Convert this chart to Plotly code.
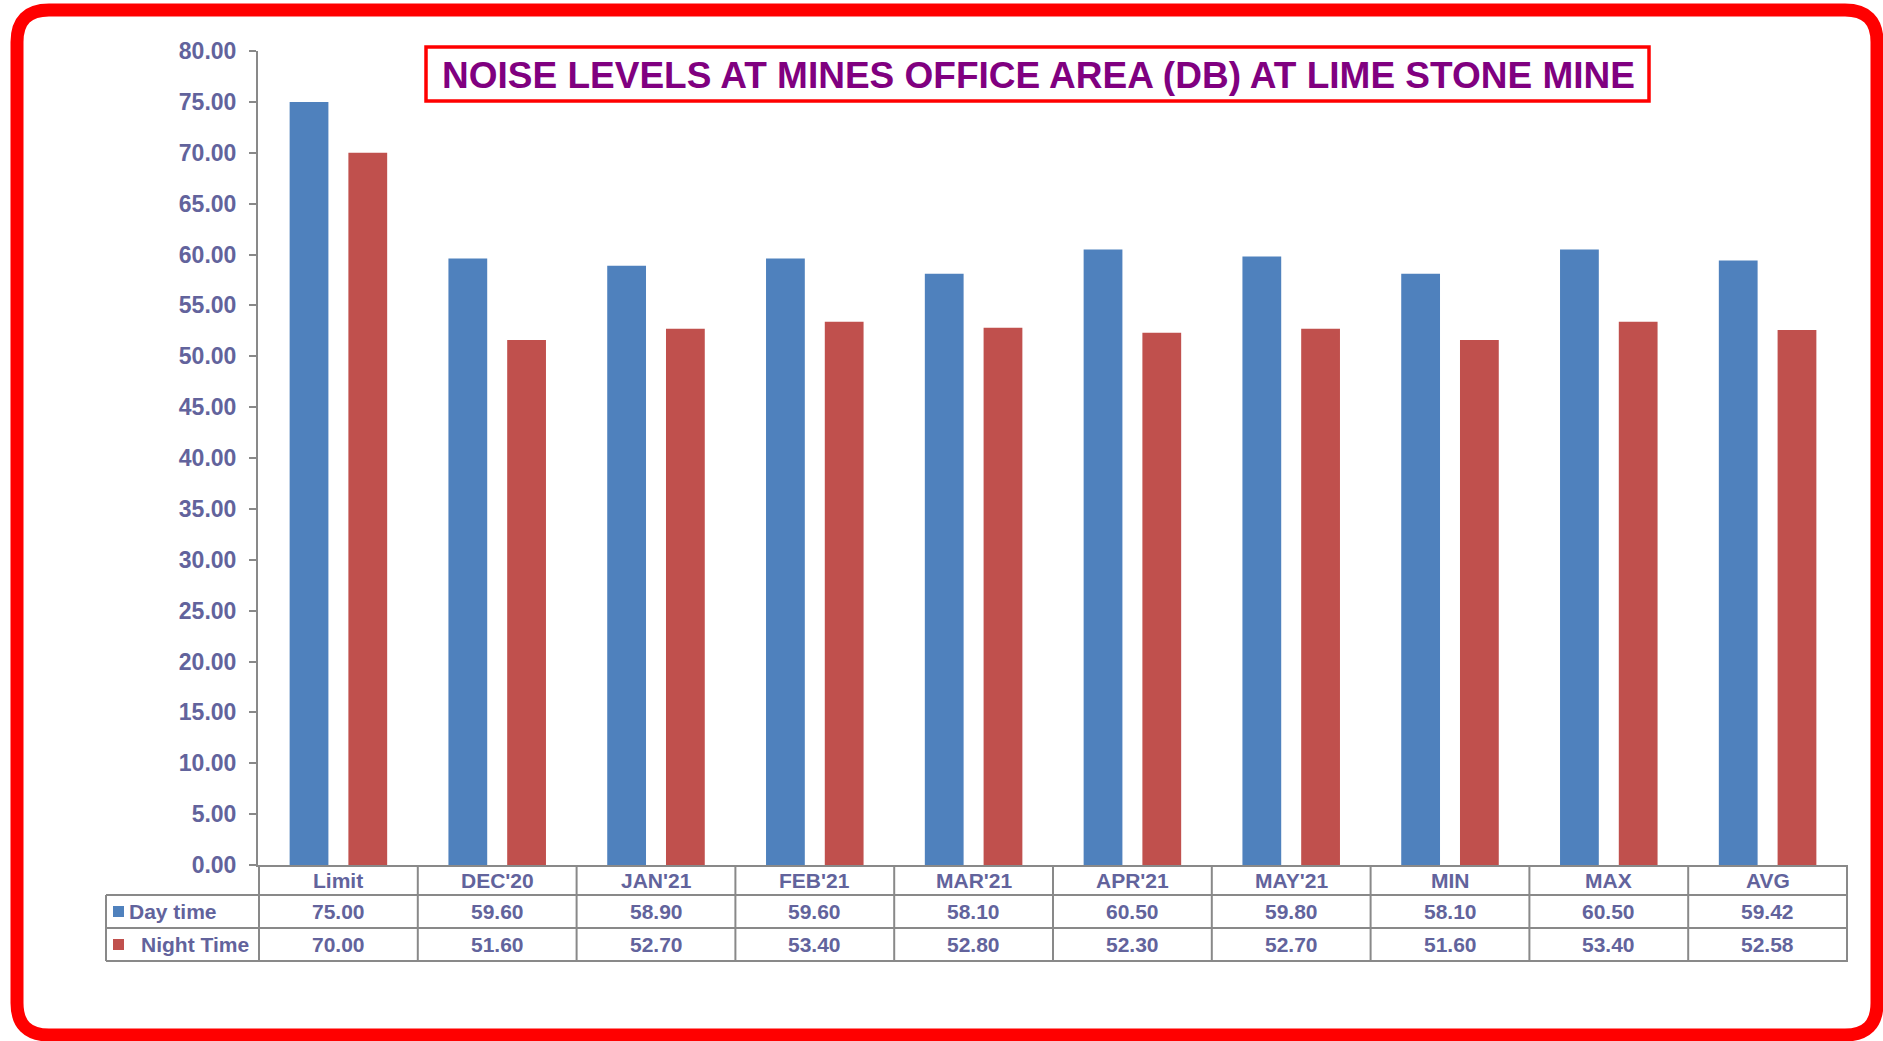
import plotly.graph_objects as go

categories = ["Limit", "DEC'20", "JAN'21", "FEB'21", "MAR'21", "APR'21", "MAY'21", "MIN", "MAX", "AVG"]
day_time = [75.00, 59.60, 58.90, 59.60, 58.10, 60.50, 59.80, 58.10, 60.50, 59.42]
night_time = [70.00, 51.60, 52.70, 53.40, 52.80, 52.30, 52.70, 51.60, 53.40, 52.58]
series_names = ["Day time", "Night Time"]
title_text = "NOISE LEVELS AT MINES OFFICE AREA (DB) AT LIME STONE MINE"

W, H = 1883, 1041
PL, PR, PT, PB = 258, 1848, 51, 865
FONT = "Arial, Liberation Sans, sans-serif"
TXT = "#62639C"
GRID = "#898989"
BLUE = "#4F81BD"
RED = "#C0504D"


def fx(px):
    return (px - PL) / (PR - PL)


def fy(py):
    return (PB - py) / (PB - PT)


fig = go.Figure()
fig.add_trace(go.Bar(x=categories, y=day_time, name=series_names[0], marker_color=BLUE,
                     marker_line_width=0))
fig.add_trace(go.Bar(x=categories, y=night_time, name=series_names[1], marker_color=RED,
                     marker_line_width=0))

shapes = []
annotations = []

# outer rounded red border
x0, x1, y0, y1, r = fx(17), fx(1877), fy(10), fy(1035), 32
rx = r / (PR - PL)
ry = r / (PB - PT)
path = (f"M {x0+rx},{y0} L {x1-rx},{y0} Q {x1},{y0} {x1},{y0-ry} "
        f"L {x1},{y1+ry} Q {x1},{y1} {x1-rx},{y1} "
        f"L {x0+rx},{y1} Q {x0},{y1} {x0},{y1+ry} "
        f"L {x0},{y0-ry} Q {x0},{y0} {x0+rx},{y0} Z")
shapes.append(dict(type="path", xref="paper", yref="paper", path=path,
                   line=dict(color="#FF0000", width=13), layer="above"))

# title box
shapes.append(dict(type="rect", xref="paper", yref="paper", x0=fx(426), x1=fx(1649),
                   y0=fy(47), y1=fy(101), line=dict(color="#FF0000", width=3.5),
                   fillcolor="white", layer="above"))
annotations.append(dict(xref="paper", yref="paper", x=fx(1038), y=fy(75), text=f"<b>{title_text}</b>",
                        showarrow=False, xanchor="center", yanchor="middle",
                        font=dict(family=FONT, size=37, color="#800080")))

# data table
n = len(categories)
row_header, row_day, row_night, row_bottom = 865, 895, 928, 961
for py in (row_day, row_night, row_bottom):
    shapes.append(dict(type="line", xref="paper", yref="paper", x0=fx(106), x1=1,
                       y0=fy(py), y1=fy(py), line=dict(color=GRID, width=2)))
for i in range(n + 1):
    shapes.append(dict(type="line", xref="x", yref="paper", x0=i - 0.5, x1=i - 0.5,
                       y0=fy(row_header), y1=fy(row_bottom), line=dict(color=GRID, width=2)))
shapes.append(dict(type="line", xref="paper", yref="paper", x0=fx(106), x1=fx(106),
                   y0=fy(row_day), y1=fy(row_bottom), line=dict(color=GRID, width=2)))

for i, c in enumerate(categories):
    annotations.append(dict(xref="x", yref="paper", x=c, y=fy(880), text=f"<b>{c}</b>",
                            showarrow=False, xanchor="center", yanchor="middle",
                            font=dict(family=FONT, size=21, color=TXT)))
    annotations.append(dict(xref="x", yref="paper", x=c, y=fy(912), text=f"<b>{day_time[i]:.2f}</b>",
                            showarrow=False, xanchor="center", yanchor="middle",
                            font=dict(family=FONT, size=21, color=TXT)))
    annotations.append(dict(xref="x", yref="paper", x=c, y=fy(945), text=f"<b>{night_time[i]:.2f}</b>",
                            showarrow=False, xanchor="center", yanchor="middle",
                            font=dict(family=FONT, size=21, color=TXT)))

# legend keys
for sq_top, col, label, tx, ty in ((906, BLUE, series_names[0], 127, 912),
                                   (939, RED, series_names[1], 139, 945)):
    shapes.append(dict(type="rect", xref="paper", yref="paper", x0=fx(113), x1=fx(124),
                       y0=fy(sq_top), y1=fy(sq_top + 11), fillcolor=col, line=dict(width=0)))
    annotations.append(dict(xref="paper", yref="paper", x=fx(tx), y=fy(ty), text=f"<b>{label}</b>",
                            showarrow=False, xanchor="left", yanchor="middle",
                            font=dict(family=FONT, size=21, color=TXT)))

fig.update_layout(
    width=W, height=H,
    margin=dict(l=PL, r=W - PR, t=PT, b=H - PB, pad=0),
    paper_bgcolor="white", plot_bgcolor="white",
    barmode="group", bargap=0.26, bargroupgap=0.34,
    showlegend=False,
    shapes=shapes, annotations=annotations,
    font=dict(family=FONT, color=TXT),
)
fig.update_yaxes(range=[0, 80], dtick=5, tickformat=".2f", showgrid=False, zeroline=False,
                 showline=True, linecolor=GRID, linewidth=2, ticks="outside", ticklen=7,
                 tickwidth=2, tickcolor=GRID, ticklabelstandoff=8,
                 tickfont=dict(family=FONT, size=23, color=TXT),
                 tickprefix="<b>", ticksuffix="</b>")
fig.update_xaxes(showticklabels=False, showgrid=False, zeroline=False, showline=True,
                 linecolor=GRID, linewidth=2, ticks="")

fig.write_html("out.html", config={"displayModeBar": False})

# remove default page margin so the figure fills the window exactly
with open("out.html", "r", encoding="utf-8") as f:
    html = f.read()
html = html.replace("<head>", "<head><style>html,body{margin:0;padding:0;overflow:hidden;}</style>", 1)
with open("out.html", "w", encoding="utf-8") as f:
    f.write(html)
